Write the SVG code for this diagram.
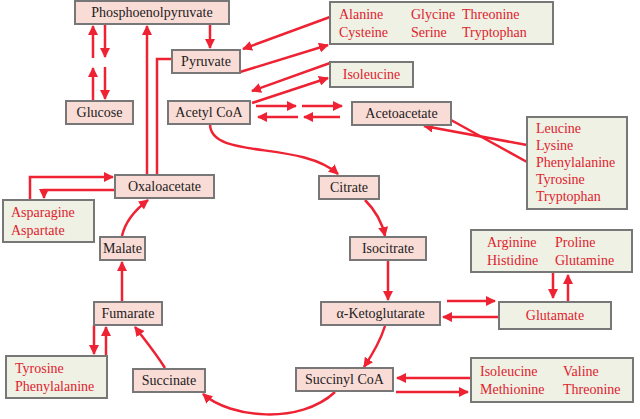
<svg xmlns="http://www.w3.org/2000/svg" width="640" height="419" viewBox="0 0 640 419">
<defs>
<marker id="ah" viewBox="0 0 10 10" refX="9" refY="5" markerWidth="4" markerHeight="4" orient="auto"><path d="M0,0 L10,5 L0,10 z" fill="#ee2233"/></marker>
<style>
.n{fill:#fadcd6;stroke:#777;stroke-width:2}
.g{fill:#eef1e4;stroke:#777;stroke-width:2}
.t{font-family:"Liberation Serif",serif;font-size:14px;fill:#222}
.r{font-family:"Liberation Serif",serif;font-size:14px;fill:#e0222e}
#c path{fill:none;stroke:#ee2233;stroke-width:2.5;marker-end:url(#ah)}
#c path.nm{marker-end:none}
</style>
</defs>
<rect width="640" height="419" fill="#fff"/>
<g id="c">
<path d="M210,124 C210,160 300,140 338,174"/>
<path d="M365,200 C375,210 382,222 385,236"/>
<path d="M388,261 L388,300"/>
<path d="M385,326 C380,342 372,355 364,367"/>
<path d="M335,392 C300,425 230,418 203,394"/>
<path d="M165,368 C155,352 145,340 135,327"/>
<path d="M122,301 L122,262"/>
<path d="M122,236 C125,222 135,210 148,200"/>
<path d="M93,101 L93,68"/><path d="M93,58 L93,26"/>
<path d="M105,25 L105,57"/><path d="M105,67 L105,99"/>
<path d="M147,175 L147,26"/>
<path class="nm" d="M172,59 L157,59 L157,175"/>
<path d="M210,25 L210,48"/>
<path d="M330,17 L243,49"/>
<path d="M240,72 L328,45"/>
<path d="M330,63 L252,91"/>
<path d="M252,103 L328,78"/>
<path d="M256,106 L296,106"/><path d="M302,106 L342,106"/>
<path d="M340,117 L304,117"/><path d="M298,117 L258,117"/>
<path d="M527,145 L424,126"/>
<path class="nm" d="M527,162 L451,120"/>
<path d="M30,200 L30,177 L113,177"/>
<path d="M115,190 L44,190 L44,198"/>
<path d="M94,325 L94,354"/>
<path d="M106,356 L106,327"/>
<path d="M447,301 L495,301"/>
<path d="M499,317 L443,317"/>
<path d="M553,272 L553,298"/>
<path d="M568,302 L568,275"/>
<path d="M471,378 L397,378"/>
<path d="M396,392 L468,392"/>
</g>
<g id="pep"><rect class="n" x="75" y="1" width="154" height="23"/><text class="t" x="152" y="17" text-anchor="middle">Phosphoenolpyruvate</text></g>
<g id="pyr"><rect class="n" x="172" y="50" width="68" height="23"/><text class="t" x="206" y="66" text-anchor="middle">Pyruvate</text></g>
<g id="glc"><rect class="n" x="66" y="101" width="67" height="23"/><text class="t" x="99.5" y="117" text-anchor="middle">Glucose</text></g>
<g id="acoa"><rect class="n" x="168" y="101" width="82" height="23"/><text class="t" x="209" y="117" text-anchor="middle">Acetyl CoA</text></g>
<g id="aca"><rect class="n" x="352" y="102" width="99" height="23"/><text class="t" x="401.5" y="118" text-anchor="middle">Acetoacetate</text></g>
<g id="ala"><rect class="g" x="330" y="2" width="223" height="42"/><text class="r" x="339" y="19">Alanine</text><text class="r" x="411" y="19">Glycine</text><text class="r" x="462" y="19">Threonine</text><text class="r" x="339" y="37">Cysteine</text><text class="r" x="411" y="37">Serine</text><text class="r" x="462" y="37">Tryptophan</text></g>
<g id="ile"><rect class="g" x="330" y="62" width="83" height="25"/><text class="r" x="371.5" y="79" text-anchor="middle">Isoleucine</text></g>
<g id="leu"><rect class="g" x="527" y="117" width="100" height="92"/><text class="r" x="536" y="133">Leucine</text><text class="r" x="536" y="150">Lysine</text><text class="r" x="536" y="167">Phenylalanine</text><text class="r" x="536" y="184">Tyrosine</text><text class="r" x="536" y="201">Tryptophan</text></g>
<g id="oaa"><rect class="n" x="115" y="175" width="99" height="23"/><text class="t" x="164.5" y="191" text-anchor="middle">Oxaloacetate</text></g>
<g id="cit"><rect class="n" x="319" y="176" width="60" height="23"/><text class="t" x="349" y="192" text-anchor="middle">Citrate</text></g>
<g id="asn"><rect class="g" x="3" y="200" width="91" height="42"/><text class="r" x="11" y="217">Asparagine</text><text class="r" x="11" y="235">Aspartate</text></g>
<g id="mal"><rect class="n" x="100" y="237" width="45" height="23"/><text class="t" x="122.5" y="253" text-anchor="middle">Malate</text></g>
<g id="icit"><rect class="n" x="350" y="237" width="76" height="23"/><text class="t" x="388" y="253" text-anchor="middle">Isocitrate</text></g>
<g id="arg"><rect class="g" x="471" y="230" width="161" height="42"/><text class="r" x="487" y="247">Arginine</text><text class="r" x="555" y="247">Proline</text><text class="r" x="487" y="265">Histidine</text><text class="r" x="555" y="265">Glutamine</text></g>
<g id="fum"><rect class="n" x="94" y="302" width="68" height="23"/><text class="t" x="128" y="318" text-anchor="middle">Fumarate</text></g>
<g id="akg"><rect class="n" x="321" y="302" width="119" height="23"/><text class="t" x="380.5" y="318" text-anchor="middle">α-Ketoglutarate</text></g>
<g id="glu"><rect class="g" x="499" y="302" width="112" height="27"/><text class="r" x="555" y="320" text-anchor="middle">Glutamate</text></g>
<g id="tyr"><rect class="g" x="6" y="356" width="101" height="42"/><text class="r" x="15" y="373">Tyrosine</text><text class="r" x="15" y="391">Phenylalanine</text></g>
<g id="suc"><rect class="n" x="133" y="369" width="72" height="23"/><text class="t" x="169" y="385" text-anchor="middle">Succinate</text></g>
<g id="scoa"><rect class="n" x="296" y="368" width="97" height="23"/><text class="t" x="344.5" y="384" text-anchor="middle">Succinyl CoA</text></g>
<g id="val"><rect class="g" x="471" y="358" width="162" height="44"/><text class="r" x="480" y="376">Isoleucine</text><text class="r" x="563" y="376">Valine</text><text class="r" x="480" y="394">Methionine</text><text class="r" x="563" y="394">Threonine</text></g>
</svg>
